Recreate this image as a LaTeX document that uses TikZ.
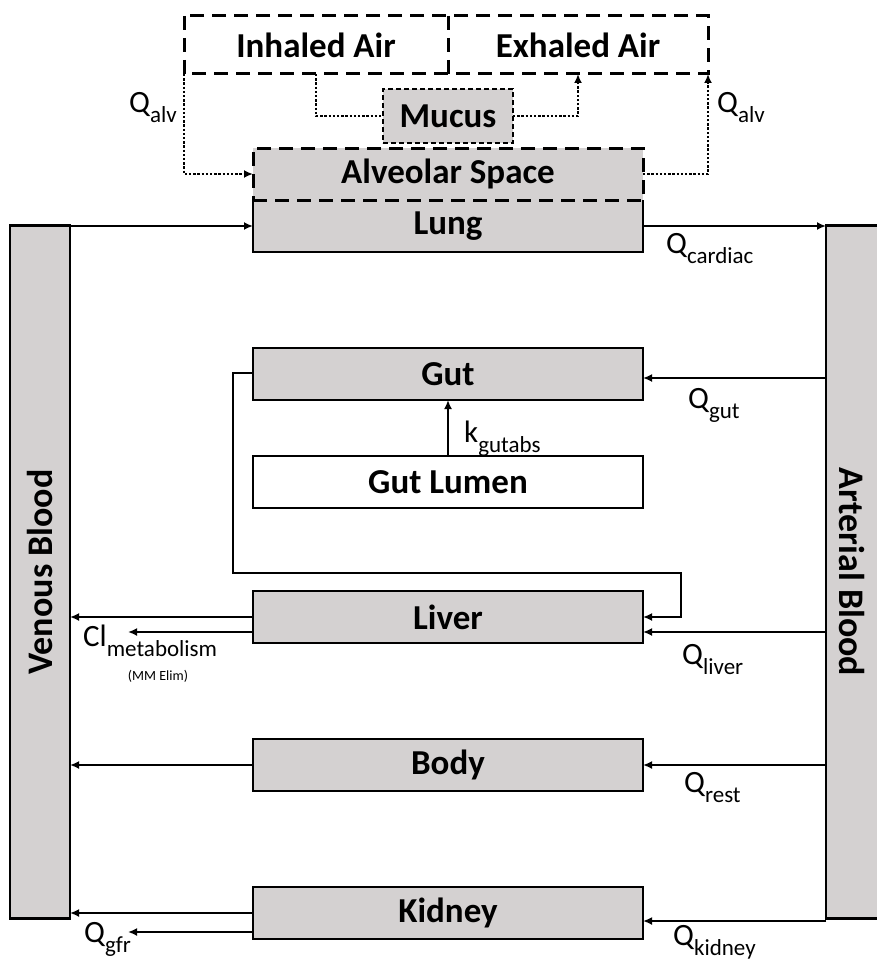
\documentclass[tikz,border=0pt]{standalone}
\usepackage{fontspec}
\setmainfont{Carlito}
\usetikzlibrary{arrows.meta,positioning,calc}
\definecolor{boxgray}{RGB}{212,209,209}
\newcommand{\lbl}[2]{#1\raisebox{-10pt}{\fontsize{23}{24}\selectfont #2}}
\tikzset{
  dob/.style={minimum width=390pt,minimum height=52pt,inner sep=0pt,outer sep=0pt,
    font=\fontsize{35}{40}\selectfont\bfseries},
  szurke/.style={dob,draw,line width=2.6pt,fill=boxgray},
  szagg/.style={line width=3pt,dash pattern=on 14pt off 8pt},
  muk/.style={dob,fill=boxgray,draw,line width=2.2pt,dash pattern=on 5pt off 3pt,
    minimum width=130pt,minimum height=54pt},
  oszlop/.style={draw,line width=2.6pt,fill=boxgray,inner sep=0pt,outer sep=0pt,
    minimum width=60pt,minimum height=693pt,font=\fontsize{36}{40}\selectfont\bfseries},
  nyl/.style={line width=2.2pt,-{Latex[length=9pt,width=8pt]}},
  pont/.style={line width=2.4pt,dash pattern=on 2.4pt off 1.8pt},
  cimke/.style={anchor=base west,inner sep=0pt},
}
\begin{document}
\begin{tikzpicture}[x=1pt,y=-1pt,font=\fontsize{31}{34}\selectfont]
  \useasboundingbox (0,0) rectangle (877,963);
  \clip (0,0) rectangle (877,963);
  % air and lung
  \node[dob,minimum width=264pt,minimum height=58pt] (inhaled) at (316,45) {Inhaled Air};
  \node[dob,minimum width=260pt,minimum height=58pt] (exhaled) at (578,45) {Exhaled Air};
  \draw[szagg] (inhaled.north west) rectangle (exhaled.south east);
  \draw[szagg] (inhaled.north east) -- (inhaled.south east);
  \node[muk] (mucus) at (448,116) {Mucus};
  \node[dob,fill=boxgray] (lung) at (448,226) {Lung};
  \draw[line width=2.6pt] (lung.north west) |- (lung.south east) -- (lung.north east);
  \node[dob,fill=boxgray,draw,szagg] (alveolar) at (448,174) {Alveolar Space};
  % blood
  \node[oszlop] (venous) at (40,572) {\rotatebox{90}{Venous Blood}};
  \node[oszlop,minimum width=52pt] (arterial) at (852,572) {\rotatebox{-90}{Arterial Blood}};
  % organs
  \node[szurke] (gut) at (448,374) {Gut};
  \node[dob,draw,line width=2.6pt] (lumen) at (448,482) {Gut Lumen};
  \node[szurke] (liver) at (448,617) {Liver};
  \node[szurke] (body) at (448,765) {Body};
  \node[szurke] (kidney) at (448,913) {Kidney};
  \coordinate (gutbend) at (681,573);
  \coordinate (clend) at (128,632);
  \coordinate (gfrend) at (128,932);
  % air flows
  \draw[pont,-{Latex[length=9pt,width=8pt]}] (inhaled.south west) |- (alveolar.west);
  \draw[pont,-{Latex[length=9pt,width=8pt]}] (alveolar.east) -| (exhaled.south east);
  \draw[pont] (inhaled.south) |- (mucus.west);
  \draw[pont,-{Latex[length=9pt,width=8pt]}] (mucus.east) -| (exhaled.south);
  % blood flows
  \draw[nyl] (venous.east |- lung.west) -- (lung.west);
  \draw[nyl] (lung.east) -- (lung.east -| arterial.west);
  \draw[nyl] ([yshift=-4pt]gut.east -| arterial.west) -- ([yshift=-4pt]gut.east);
  \draw[nyl] (lumen.north) -- (gut.south);
  \draw[nyl] ([yshift=1pt]gut.west) -- ++(-20,0) |- (gutbend) |- (liver.east);
  \draw[nyl] ([yshift=-15pt]liver.east -| arterial.west) -- ([yshift=-15pt]liver.east);
  \draw[nyl] (liver.west) -- (liver.west -| venous.east);
  \draw[nyl] ([yshift=-15pt]liver.west) -- (clend);
  \draw[nyl] (body.east -| arterial.west) -- (body.east);
  \draw[nyl] (body.west) -- (body.west -| venous.east);
  \draw[nyl] ([yshift=-8pt]kidney.east -| arterial.west) -- ([yshift=-8pt]kidney.east);
  \draw[nyl] (kidney.west) -- (kidney.west -| venous.east);
  \draw[nyl] ([yshift=-19pt]kidney.west) -- (gfrend);
  % labels
  \node[cimke] (qalvl) at (129,113) {\lbl{Q}{alv}};
  \node[cimke] (qalvr) at (717,113) {\lbl{Q}{alv}};
  \node[cimke] (qcard) at (666,253) {\lbl{Q}{cardiac}};
  \node[cimke] (qgut) at (688,408) {\lbl{Q}{gut}};
  \node[cimke] (kabs) at (464,442) {\lbl{k}{gutabs}};
  \node[cimke] (qliver) at (682,664) {\lbl{Q}{liver}};
  \node[cimke] (clmet) at (83,646) {\lbl{Cl}{metabolism}};
  \node[font=\fontsize{14}{16}\selectfont] (mm) at (158,676) {(MM Elim)};
  \node[cimke] (qrest) at (684,792) {\lbl{Q}{rest}};
  \node[cimke] (qkid) at (673,945) {\lbl{Q}{kidney}};
  \node[cimke] (qgfr) at (84,942) {\lbl{Q}{gfr}};
\end{tikzpicture}
\end{document}
